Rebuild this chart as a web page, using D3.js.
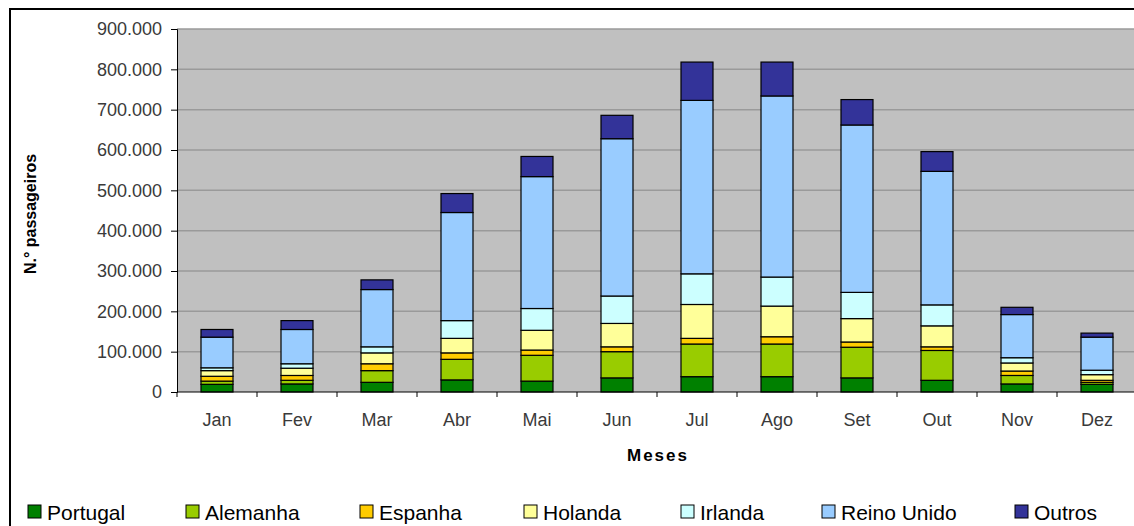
<!DOCTYPE html>
<html>
<head>
<meta charset="utf-8">
<script src="https://cdn.jsdelivr.net/npm/d3@7"></script>
<style>
  body { margin: 0; background: #fff; }
  svg { display: block; font-family: 'Liberation Sans', Arial, sans-serif; }
  .axis text { fill: #3a3a3a; font-size: 18px; }
  .axis path, .axis line { stroke: #000; }
</style>
</head>
<body>
<div id="chart"></div>
<script>
var months = ['Jan', 'Fev', 'Mar', 'Abr', 'Mai', 'Jun', 'Jul', 'Ago', 'Set', 'Out', 'Nov', 'Dez']
var countries = ['Portugal', 'Alemanha', 'Espanha', 'Holanda', 'Irlanda', 'Reino Unido', 'Outros']
var colors = ['#008000', '#99CC00', '#FFCC00', '#FFFF99', '#CCFFFF', '#99CCFF', '#333399']

// passengers per month, one array per country
var portugal = [19000, 20000, 24000, 30000, 27000, 35000, 38000, 38000, 35000, 29000, 20000, 19000]
var alemanha = [8000, 9000, 29000, 51000, 64000, 65000, 81000, 81000, 76000, 74000, 21000, 5000]
var espanha = [12000, 12000, 17000, 16000, 13000, 12000, 14000, 18000, 13000, 9000, 11000, 5000]
var holanda = [14000, 18000, 27000, 36000, 49000, 58000, 84000, 76000, 58000, 52000, 20000, 14000]
var irlanda = [7000, 11000, 15000, 44000, 54000, 68000, 76000, 72000, 65000, 52000, 13000, 11000]
var reinoUnido = [76000, 85000, 142000, 268000, 327000, 390000, 430000, 449000, 415000, 331000, 107000, 82000]
var outros = [19000, 22000, 24000, 47000, 50000, 58000, 95000, 84000, 63000, 49000, 18000, 10000]

var yTicks = [0, 100000, 200000, 300000, 400000, 500000, 600000, 700000, 800000, 900000]

var series = [portugal, alemanha, espanha, holanda, irlanda, reinoUnido, outros]

var width = 1134
var height = 526
var margin = { top: 29, right: -3, bottom: 134, left: 177 }

var svg = d3.select('#chart').append('svg')
  .attr('width', width)
  .attr('height', height)

// outer frame (only top and left edges fall inside the picture)
svg.append('rect')
  .attr('x', 10).attr('y', 9)
  .attr('width', width + 20).attr('height', height + 20)
  .attr('fill', 'none')
  .attr('stroke', '#000')
  .attr('stroke-width', 2)

var x = d3.scaleBand()
  .domain(months)
  .range([margin.left, width - margin.right])
  .paddingInner(0.6)
  .paddingOuter(0.3)

var xTicks = d3.scaleBand()
  .domain(months)
  .range([margin.left, width - margin.right])

var y = d3.scaleLinear()
  .domain([0, 900000])
  .range([height - margin.bottom, margin.top])

// plot background
svg.append('rect')
  .attr('x', margin.left)
  .attr('y', y(900000))
  .attr('width', width - margin.right - margin.left)
  .attr('height', y(0) - y(900000))
  .attr('fill', '#C0C0C0')

// gridlines
svg.append('g')
  .selectAll('line')
  .data(yTicks.slice(1))
  .enter().append('line')
  .attr('x1', margin.left)
  .attr('x2', width - margin.right)
  .attr('y1', function (d) { return y(d) })
  .attr('y2', function (d) { return y(d) })
  .attr('stroke', '#9a9a9a')
  .attr('stroke-width', 1.5)

// stack
var table = months.map(function (m, i) {
  var row = { month: m }
  countries.forEach(function (c, k) { row[c] = series[k][i] })
  return row
})
var stacked = d3.stack().keys(countries)(table)

svg.append('g')
  .selectAll('g')
  .data(stacked)
  .enter().append('g')
  .attr('fill', function (d, i) { return colors[i] })
  .selectAll('rect')
  .data(function (d) { return d })
  .enter().append('rect')
  .attr('x', function (d) { return x(d.data.month) })
  .attr('y', function (d) { return y(d[1]) })
  .attr('width', x.bandwidth())
  .attr('height', function (d) { return y(d[0]) - y(d[1]) })
  .attr('stroke', '#000')
  .attr('stroke-width', 1.2)

// y axis
var fmt = function (d) { return d3.format(',')(d).replace(/,/g, '.') }
svg.append('g')
  .attr('class', 'axis')
  .attr('transform', 'translate(' + margin.left + ',0)')
  .call(d3.axisLeft(y).tickValues(yTicks).tickFormat(fmt).tickSizeOuter(0).tickSize(6).tickPadding(9))

// x axis with ticks on band boundaries
var xAxis = svg.append('g')
  .attr('class', 'axis')
  .attr('transform', 'translate(0,' + y(0) + ')')
xAxis.append('line')
  .attr('x1', margin.left).attr('x2', width)
  .attr('stroke', '#000')
xAxis.selectAll('.tk')
  .data(months)
  .enter().append('line')
  .attr('x1', function (d) { return xTicks(d) })
  .attr('x2', function (d) { return xTicks(d) })
  .attr('y1', 0).attr('y2', 5)
  .attr('stroke', '#000')
xAxis.selectAll('text')
  .data(months)
  .enter().append('text')
  .attr('x', function (d) { return xTicks(d) + xTicks.bandwidth() / 2 })
  .attr('y', 34)
  .attr('text-anchor', 'middle')
  .text(function (d) { return d })

// axis titles
svg.append('text')
  .attr('x', 658)
  .attr('y', 461)
  .attr('text-anchor', 'middle')
  .style('font-size', '17px')
  .style('font-weight', 'bold')
  .style('letter-spacing', '2px')
  .text('Meses')

svg.append('text')
  .attr('transform', 'translate(36,214) rotate(-90)')
  .attr('text-anchor', 'middle')
  .style('font-size', '16px')
  .style('font-weight', 'bold')
  .text('N.° passageiros')

// legend
var legendX = [28, 186, 360, 524, 681, 822, 1015]
var legend = svg.append('g')
  .selectAll('g')
  .data(countries)
  .enter().append('g')
  .attr('transform', function (d, i) { return 'translate(' + legendX[i] + ',505)' })
legend.append('rect')
  .attr('width', 13).attr('height', 13)
  .attr('fill', function (d, i) { return colors[i] })
  .attr('stroke', '#000')
  .attr('stroke-width', 1)
legend.append('text')
  .attr('x', 19)
  .attr('y', 15)
  .style('font-size', '21px')
  .text(function (d) { return d })
</script>
</body>
</html>
